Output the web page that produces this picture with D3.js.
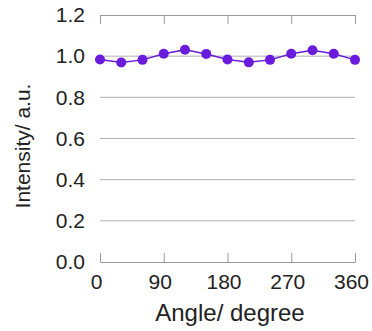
<!DOCTYPE html>
<html lang="en">
<head>
    <meta charset="UTF-8">
    <title>Intensity vs Angle</title>
    <script src="https://d3js.org/d3.v7.min.js"></script>
    <style>
        body { margin: 0; background: #fff; }
        text { font-family: "Liberation Sans", Arial, sans-serif; fill: #222; }
    </style>
</head>
<body>
    <svg id="chart" width="372" height="331"></svg>
    <script>
        // data
        const angles = [0, 30, 60, 90, 120, 150, 180, 210, 240, 270, 300, 330, 360];
        const intensity = [0.984, 0.969, 0.982, 1.012, 1.031, 1.011, 0.984, 0.970, 0.982, 1.012, 1.029, 1.012, 0.982];
        const xTicks = [0, 90, 180, 270, 360];
        const yTicks = [0.0, 0.2, 0.4, 0.6, 0.8, 1.0, 1.2];

        const svg = d3.select("#chart");
        const margin = { top: 15, right: 17, bottom: 69, left: 100 };
        const width = 372 - margin.left - margin.right;
        const height = 331 - margin.top - margin.bottom;

        const g = svg.append("g")
            .attr("transform", `translate(${margin.left},${margin.top})`);

        const x = d3.scaleLinear().domain([0, 360]).range([0, width]);
        const y = d3.scaleLinear().domain([0, 1.2]).range([height, 0]);

        // horizontal grid lines
        g.selectAll("line.grid")
            .data(yTicks.slice(1, -1))
            .enter()
            .append("line")
            .attr("class", "grid")
            .attr("x1", 0)
            .attr("x2", width)
            .attr("y1", d => y(d))
            .attr("y2", d => y(d))
            .attr("stroke", "#b0b0b0")
            .attr("stroke-width", 1);

        // bottom axis, ticks pointing inward
        const xAxis = g.append("g")
            .attr("transform", `translate(0,${height})`)
            .call(d3.axisBottom(x).tickValues(xTicks).tickSizeInner(-9).tickSizeOuter(0).tickPadding(12).tickFormat(d3.format("d")));
        xAxis.select(".domain").attr("stroke", "#999");
        xAxis.selectAll(".tick line").attr("stroke", "#999");
        xAxis.selectAll("text")
            .attr("font-size", 21)
            .attr("x", -4)
            .attr("fill", "#222")
            .attr("font-family", "Liberation Sans, Arial, sans-serif");

        // top axis, ticks only
        const topAxis = g.append("g")
            .call(d3.axisTop(x).tickValues(xTicks).tickSizeInner(-9).tickSizeOuter(0).tickFormat(""));
        topAxis.select(".domain").attr("stroke", "#999");
        topAxis.selectAll(".tick line").attr("stroke", "#999");

        // left axis labels only
        const yAxis = g.append("g")
            .call(d3.axisLeft(y).tickValues(yTicks).tickSize(0).tickPadding(15).tickFormat(d3.format(".1f")));
        yAxis.select(".domain").remove();
        yAxis.selectAll("text")
            .attr("font-size", 21)
            .attr("fill", "#222")
            .attr("font-family", "Liberation Sans, Arial, sans-serif");

        // series
        const line = d3.line()
            .x((d, i) => x(angles[i]))
            .y(d => y(d));

        g.append("path")
            .datum(intensity)
            .attr("d", line)
            .attr("fill", "none")
            .attr("stroke", "#6a1bdb")
            .attr("stroke-width", 1.5);

        g.selectAll("circle")
            .data(intensity)
            .enter()
            .append("circle")
            .attr("cx", (d, i) => x(angles[i]))
            .attr("cy", d => y(d))
            .attr("r", 5)
            .attr("fill", "#6a1bdb");

        // axis titles
        svg.append("text")
            .attr("x", 230)
            .attr("y", 321)
            .attr("text-anchor", "middle")
            .attr("font-size", 24)
            .text("Angle/ degree");

        svg.append("text")
            .attr("transform", `translate(30,${146}) rotate(-90)`)
            .attr("text-anchor", "middle")
            .attr("font-size", 21)
            .text("Intensity/ a.u.");
    </script>
</body>
</html>
